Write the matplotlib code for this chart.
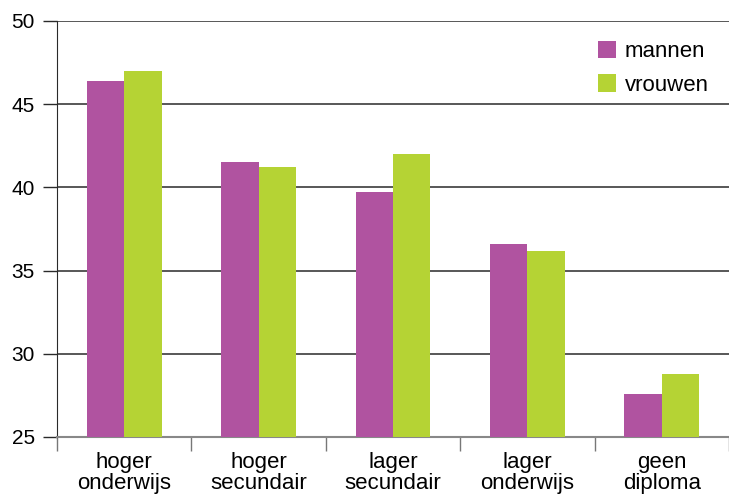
import numpy as np
import matplotlib.pyplot as plt

plt.rcParams['font.family'] = ['Liberation Sans', 'DejaVu Sans']

categories = ["hoger\nonderwijs", "hoger\nsecundair", "lager\nsecundair", "lager\nonderwijs", "geen\ndiploma"]
mannen = [46.4, 41.5, 39.7, 36.6, 27.6]
vrouwen = [47.0, 41.2, 42.0, 36.2, 28.8]

c_man = '#b053a0'
c_vrouw = '#b5d334'

fig = plt.figure(figsize=(7.29, 4.96), dpi=100)
ax = fig.add_axes([0.0782, 0.119, 0.9218, 0.839])

x = np.arange(len(categories))
w = 0.278
ax.bar(x - w / 2, np.array(mannen) - 25, w, bottom=25, color=c_man, label="mannen", zorder=3)
ax.bar(x + w / 2, np.array(vrouwen) - 25, w, bottom=25, color=c_vrouw, label="vrouwen", zorder=3)

ax.set_xlim(-0.5, 4.39)
ax.set_ylim(25, 50)
ax.set_yticks([25, 30, 35, 40, 45, 50])
ax.yaxis.grid(True, color='#2a2a2a', lw=1.1)
ax.set_axisbelow(True)

# category labels in the middle, tick marks between groups
ax.set_xticks(np.arange(len(categories) + 1) - 0.5)
ax.set_xticklabels([])
ax.set_xticks(x, minor=True)
ax.set_xticklabels(categories, minor=True, fontsize=16, linespacing=1.0)
ax.tick_params(axis='x', which='major', length=10, width=1, color='#777777', direction='out')
ax.tick_params(axis='x', which='minor', length=0, pad=11)
ax.tick_params(axis='y', length=10, width=1, color='#2a2a2a', labelsize=15, pad=6)

for s in ['top', 'right']:
    ax.spines[s].set_visible(False)
ax.spines['left'].set_color('#2a2a2a')
ax.spines['bottom'].set_color('#888888')
ax.spines['bottom'].set_linewidth(1.5)

ax.legend(loc='upper right', bbox_to_anchor=(1.0, 1.0), frameon=False, fontsize=16,
          handlelength=0.82, handleheight=0.82, handletextpad=0.4, labelspacing=0.55)

fig.savefig('out.png', dpi=100)
